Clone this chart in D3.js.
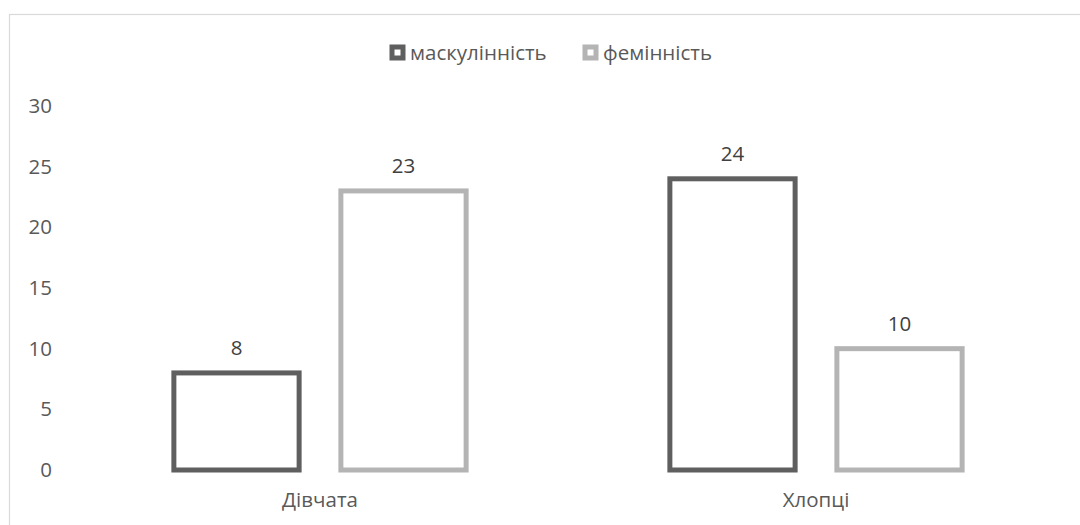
<!DOCTYPE html>
<html>
<head>
<meta charset="utf-8">
<script src="https://cdn.jsdelivr.net/npm/d3@7"></script>
<style>
  html, body { margin: 0; padding: 0; background: #fff; }
  svg { display: block; font-family: "Open Sans", "Liberation Sans", sans-serif; }
</style>
</head>
<body>
<svg id="chart" width="1080" height="525"></svg>
<script>
// Categories, series and values
const categories = ["Дівчата", "Хлопці"];
const seriesNames = ["маскулінність", "фемінність"];
const masculinity = [8, 24];
const femininity = [23, 10];
const yTicks = [0, 5, 10, 15, 20, 25, 30];
const seriesColors = ["#5f5f5f", "#b4b4b4"];

const svg = d3.select("#chart");
const W = 1080, H = 525;
const FONT = "'Open Sans', 'Liberation Sans', sans-serif";
const TEXT_COLOR = "#595959";
const FS = 20.5;

// Outer chart frame
svg.append("rect")
  .attr("x", 9.5).attr("y", 14.5)
  .attr("width", W + 10).attr("height", H + 10)
  .attr("fill", "#fff").attr("stroke", "#d9d9d9").attr("stroke-width", 1.2);

const plot = { left: 72, right: 1064, top: 106, bottom: 470 };

const y = d3.scaleLinear().domain([0, 30]).range([plot.bottom, plot.top]);
const x0 = d3.scaleBand().domain(categories).range([plot.left, plot.right]).padding(0);
const x1 = d3.scaleBand().domain(seriesNames).range([0, x0.bandwidth()])
  .paddingInner(0.25).paddingOuter(0.61);

// Y axis tick labels (no line, no gridlines)
const yAxis = d3.axisLeft(y).tickValues(yTicks).tickSize(0).tickPadding(0);
const gy = svg.append("g").attr("transform", "translate(52,0)").call(yAxis);
gy.select(".domain").remove();
gy.selectAll("text")
  .attr("fill", TEXT_COLOR).attr("font-size", FS).attr("font-family", FONT);

// Category labels
const xAxis = d3.axisBottom(x0).tickSize(0).tickPadding(0);
const gx = svg.append("g").attr("transform", `translate(0,${plot.bottom + 22})`).call(xAxis);
gx.select(".domain").remove();
gx.selectAll("text")
  .attr("fill", TEXT_COLOR).attr("font-size", FS).attr("font-family", FONT);

// Bars: outlined rectangles
const rows = categories.map((c, i) => ({
  cat: c,
  vals: [
    { s: seriesNames[0], v: masculinity[i], color: seriesColors[0] },
    { s: seriesNames[1], v: femininity[i], color: seriesColors[1] }
  ]
}));

const groups = svg.append("g").selectAll("g").data(rows).join("g")
  .attr("transform", d => `translate(${x0(d.cat)},0)`);

groups.selectAll("rect").data(d => d.vals).join("rect")
  .attr("x", d => x1(d.s))
  .attr("y", d => y(d.v))
  .attr("width", x1.bandwidth())
  .attr("height", d => y(0) - y(d.v))
  .attr("fill", "#fff")
  .attr("stroke", d => d.color)
  .attr("stroke-width", 5);

groups.selectAll("text.val").data(d => d.vals).join("text")
  .attr("class", "val")
  .attr("x", d => x1(d.s) + x1.bandwidth() / 2)
  .attr("y", d => y(d.v) - 18)
  .attr("text-anchor", "middle")
  .attr("fill", "#404040")
  .attr("font-size", FS)
  .text(d => d.v);

// Legend
const legendItems = [
  { name: seriesNames[0], color: seriesColors[0], x: 389.5 },
  { name: seriesNames[1], color: seriesColors[1], x: 582.5 }
];
const lg = svg.append("g").selectAll("g").data(legendItems).join("g")
  .attr("transform", d => `translate(${d.x},44.5)`);
lg.append("rect")
  .attr("x", 2.5).attr("y", 2.5).attr("width", 11).attr("height", 11)
  .attr("fill", "#fff").attr("stroke", d => d.color).attr("stroke-width", 5);
lg.append("text")
  .attr("x", 20.5).attr("y", 15.5)
  .attr("fill", TEXT_COLOR).attr("font-size", FS)
  .text(d => d.name);
</script>
</body>
</html>
